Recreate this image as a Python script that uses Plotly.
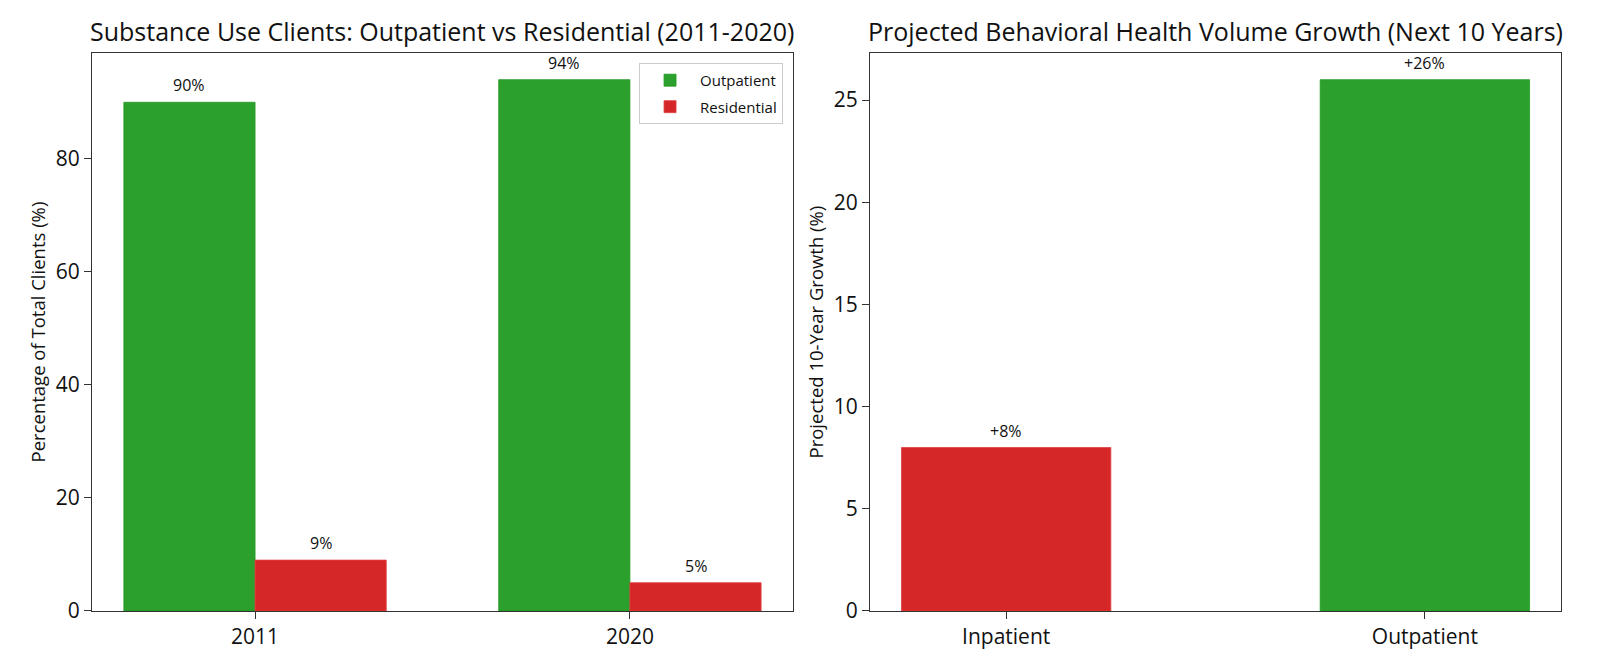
import plotly.graph_objects as go

# Data
years = ["2011", "2020"]
outpatient_pct = [90, 94]
residential_pct = [9, 5]

growth_categories = ["Inpatient", "Outpatient"]
growth_values = [8, 26]

GREEN = "#2ca02c"
RED = "#d62728"
FONT = "Open Sans"
BAR_W = 0.35

fig = go.Figure()

fig.add_trace(go.Bar(
    x=years, y=outpatient_pct, name="Outpatient", legendgroup="a",
    marker=dict(color=GREEN, line=dict(color="#229922", width=0.8)),
    width=BAR_W, offset=-BAR_W, xaxis="x", yaxis="y",
))
fig.add_trace(go.Bar(
    x=years, y=residential_pct, name="Residential", legendgroup="b",
    marker=dict(color=RED, line=dict(color="#e04040", width=0.8)),
    width=BAR_W, offset=0.0, xaxis="x", yaxis="y",
))
fig.add_trace(go.Bar(
    x=growth_categories, y=growth_values, showlegend=False,
    marker=dict(color=[RED, GREEN], line=dict(color=["#e04040", "#229922"], width=0.8)),
    width=0.5, offset=-0.25, xaxis="x2", yaxis="y2",
))

LBL = dict(size=16, color="#111", family=FONT)
annotations = []
for i, v in enumerate(outpatient_pct):
    annotations.append(dict(x=i - BAR_W / 2, y=v, xref="x", yref="y", text=f"{v}%",
                            showarrow=False, xanchor="center", yanchor="bottom", yshift=4, font=LBL))
for i, v in enumerate(residential_pct):
    annotations.append(dict(x=i + BAR_W / 2, y=v, xref="x", yref="y", text=f"{v}%",
                            showarrow=False, xanchor="center", yanchor="bottom", yshift=4, font=LBL))
for i, v in enumerate(growth_values):
    annotations.append(dict(x=i, y=v, xref="x2", yref="y2", text=f"+{v}%",
                            showarrow=False, xanchor="center", yanchor="bottom", yshift=4, font=LBL))

X1 = [0.0525, 0.4906]
X2 = [0.5388, 0.9706]
Y0, Y1 = 0.078, 0.931
TITLE_F = dict(size=25, color="#111", family=FONT)
annotations.append(dict(x=sum(X1) / 2, y=Y1, xref="paper", yref="paper", xanchor="center",
                        text="Substance Use Clients: Outpatient vs Residential (2011-2020)",
                        showarrow=False, yanchor="bottom", yshift=3, font=TITLE_F))
annotations.append(dict(x=sum(X2) / 2, y=Y1, xref="paper", yref="paper", xanchor="center",
                        text="Projected Behavioral Health Volume Growth (Next 10 Years)",
                        showarrow=False, yanchor="bottom", yshift=3, font=TITLE_F))

axis_common = dict(showline=True, mirror=True, linecolor="#333", linewidth=1,
                   ticks="outside", ticklen=7, tickcolor="#333", showgrid=False,
                   zeroline=False, tickfont=dict(size=21, color="#111", family=FONT))
AX_T = dict(size=18.5, color="#111", family=FONT)

fig.update_layout(
    width=1600, height=667,
    margin=dict(l=0, r=0, t=0, b=0),
    paper_bgcolor="white", plot_bgcolor="white",
    barmode="overlay",
    font=dict(family=FONT, color="#111"),
    xaxis=dict(domain=X1, type="category", range=[-0.435, 1.435], **axis_common),
    yaxis=dict(domain=[Y0, Y1], range=[0, 98.7], tickvals=[0, 20, 40, 60, 80],
               title=dict(text="Percentage of Total Clients (%)", font=AX_T, standoff=5),
               **axis_common),
    xaxis2=dict(domain=X2, type="category", range=[-0.325, 1.325], anchor="y2", **axis_common),
    yaxis2=dict(domain=[Y0, Y1], range=[0, 27.3], tickvals=[0, 5, 10, 15, 20, 25], anchor="x2",
                title=dict(text="Projected 10-Year Growth (%)", font=AX_T, standoff=5),
                **axis_common),
    legend=dict(x=0.4844, xanchor="right", y=0.916, yanchor="top",
                bgcolor="rgba(255,255,255,0.8)", bordercolor="#ccc", borderwidth=1,
                itemwidth=50, tracegroupgap=4,
                font=dict(size=15, family=FONT, color="#111")),
    annotations=annotations,
)

fig.write_html("out.html")
